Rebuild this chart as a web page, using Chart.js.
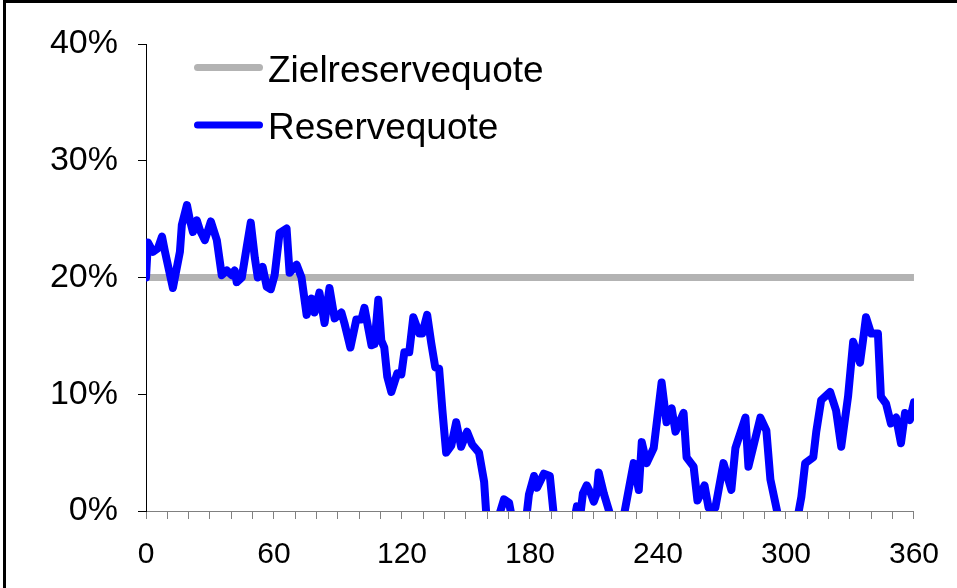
<!DOCTYPE html>
<html>
<head>
<meta charset="utf-8">
<script src="https://cdn.jsdelivr.net/npm/chart.js@4"></script>
<style>
    body { margin: 0; background: #fff; }
    #wrap { position: relative; width: 957px; height: 588px; }
    #frame {
        position: absolute; left: 3px; top: 0; right: 0; bottom: 0;
        border-top: 3px solid #000; border-left: 3px solid #000;
        pointer-events: none;
    }
</style>
</head>
<body>
<div id="wrap">
    <canvas id="chart" width="957" height="588"></canvas>
    <div id="frame"></div>
</div>
<script>
// Zeitpunkte (Tage) und Reservequote in %
const zeit = [
    0, 0.9, 3.3, 5.6, 7.5, 8.9, 12.6, 15.9, 16.8, 19.2, 20.6, 22, 23.8, 25.2, 27.6, 30.4, 33.2, 35.5, 37.9, 40.2,
    41.6, 42.5, 44.9, 47.2, 49.1, 51, 52.4, 54.7, 56.6, 58.5, 60.3, 62.6, 65.9, 67.3, 70.6, 72.9, 75.3, 77.6, 79, 81.3,
    83.7, 86, 88.4, 91.6, 93, 95.8, 98.6, 101, 102.4, 105.7, 107.1, 108.9, 110.3, 111.7, 113.1, 115, 117.8, 119.7, 121.1, 123.4,
    125.3, 128.1, 129.5, 131.8, 133.7, 135.6, 137.4, 138.9, 140.7, 143.1, 145.4, 147.7, 150.5, 152.9, 156.1, 158.5, 160.5, 163, 164.5, 167.8,
    170.2, 172.5, 175, 178, 179.5, 181.9, 183.3, 186.5, 189.3, 191.5, 194, 198, 200.5, 202, 203.5, 204.8, 206.6, 208.5, 209.9, 211.3,
    212.2, 214.6, 217.9, 219, 222, 223.9, 228.6, 231, 232.4, 234.7, 238, 241.7, 244, 246.4, 248.2, 252, 253.4, 256.7, 258.5, 261.8,
    263.7, 266.9, 270.7, 274.4, 276.3, 281, 282.4, 288, 290.8, 292.7, 296.4, 298, 303, 305.7, 307.2, 309, 312.8, 314.2, 316.5, 320.7,
    323.5, 325.9, 329.1, 331.5, 334.7, 336.1, 337.5, 339.9, 343.1, 344.5, 346.9, 349.2, 351.6, 353.9, 355.8, 358.1, 360
];
const reservequote = [
    20, 23, 22.2, 22.5, 23.5, 22.2, 19.1, 22.2, 24.5, 26.2, 24.9, 23.9, 24.9, 24.1, 23.2, 24.8, 23.2, 20.2, 20.6, 20.2,
    20.6, 19.6, 20, 22.6, 24.7, 21.7, 20, 20.9, 19.2, 19, 20.2, 23.8, 24.2, 20.4, 21.1, 20, 16.8, 18.2, 17, 18.7,
    16.1, 19.1, 16.5, 17, 16.1, 14, 16.4, 16.4, 17.4, 14.2, 14.3, 18.1, 14.6, 14, 11.5, 10.2, 11.8, 11.7, 13.6, 13.6,
    16.6, 15.2, 15.2, 16.8, 14.4, 12.3, 12.2, 8.7, 5, 5.6, 7.6, 5.5, 6.8, 5.7, 5, 2.5, -3, -2, -1, 1,
    0.7, -1.5, -3, -1, 1.4, 3, 2, 3.2, 3, -1, -4, -2, -1, 0.4, -0.5, 1.5, 2.2, 1.5, 0.8, 1.5,
    3.3, 1.5, -0.5, -3, -2, -0.5, 4.1, 1.8, 5.9, 4.1, 5.4, 11, 7.6, 8.8, 6.8, 8.4, 4.6, 3.8, 0.9, 2.2,
    0.3, 0.3, 4.1, 1.8, 5.4, 8, 3.8, 8, 6.9, 2.7, -0.5, -3, -2, -0.3, 1.2, 4.1, 4.6, 6.8, 9.5, 10.2,
    8.6, 5.5, 9.8, 14.5, 12.7, 14.6, 16.6, 15.2, 15.2, 9.8, 9.2, 7.5, 8, 5.8, 8.4, 7.8, 9.3
];
const zielZeit = [0, 360];
const zielQuote = [20, 20];
const xLabels = [0, 60, 120, 180, 240, 300, 360];
const yTicks = [0, 10, 20, 30, 40];

const fontFamily = "'Liberation Sans', Arial, sans-serif";

// Legende oben links im Diagramm
const legendPlugin = {
    id: 'innerLegend',
    afterDraw(chart) {
        const ctx = chart.ctx;
        const rows = [1, 0].map(i => chart.data.datasets[i]);
        rows.forEach((ds, i) => {
            const y = 67.5 + i * 57.5;
            ctx.save();
            ctx.strokeStyle = ds.borderColor;
            ctx.lineWidth = 7;
            ctx.lineCap = 'round';
            ctx.beginPath();
            ctx.moveTo(197.5, y);
            ctx.lineTo(259.5, y);
            ctx.stroke();
            ctx.fillStyle = '#000';
            ctx.font = '37px ' + fontFamily;
            ctx.textBaseline = 'alphabetic';
            ctx.fillText(ds.label, 268, y + 14);
            ctx.restore();
        });
    }
};

const ctx = document.getElementById('chart').getContext('2d');
new Chart(ctx, {
    type: 'line',
    data: {
        datasets: [
            {
                label: 'Reservequote',
                data: zeit.map((t, i) => ({ x: t, y: reservequote[i] })),
                borderColor: '#0000ff',
                borderWidth: 8,
                borderJoinStyle: 'round',
                borderCapStyle: 'round',
                pointRadius: 0,
                tension: 0,
                clip: 0,
                order: 1
            },
            {
                label: 'Zielreservequote',
                data: zielZeit.map((t, i) => ({ x: t, y: zielQuote[i] })),
                borderColor: '#b3b3b3',
                borderWidth: 7,
                pointRadius: 0,
                clip: 0,
                order: 2
            }
        ]
    },
    options: {
        responsive: false,
        animation: false,
        layout: { padding: { top: 44, right: 41, left: 0, bottom: 0 } },
        plugins: { legend: { display: false }, tooltip: { enabled: false } },
        scales: {
            x: {
                type: 'linear',
                min: 0,
                max: 360,
                afterFit: s => { s.height = 77; },
                grid: { drawOnChartArea: false, color: '#808080', tickLength: 8 },
                border: { color: '#808080', width: 1 },
                ticks: {
                    stepSize: 10,
                    maxTicksLimit: 100,
                    autoSkip: false,
                    maxRotation: 0,
                    padding: 18,
                    color: '#000',
                    font: { family: fontFamily, size: 30 },
                    callback: v => xLabels.includes(v) ? String(v) : ''
                }
            },
            y: {
                min: 0,
                max: 40,
                afterFit: s => { s.width = 146; },
                grid: { drawOnChartArea: false, color: '#000', tickLength: 8 },
                border: { color: '#000', width: 1 },
                ticks: {
                    stepSize: 10,
                    padding: 20,
                    color: '#000',
                    font: { family: fontFamily, size: 34 },
                    callback: v => yTicks.includes(v) ? v + '%' : ''
                }
            }
        }
    },
    plugins: [legendPlugin]
});
</script>
</body>
</html>
